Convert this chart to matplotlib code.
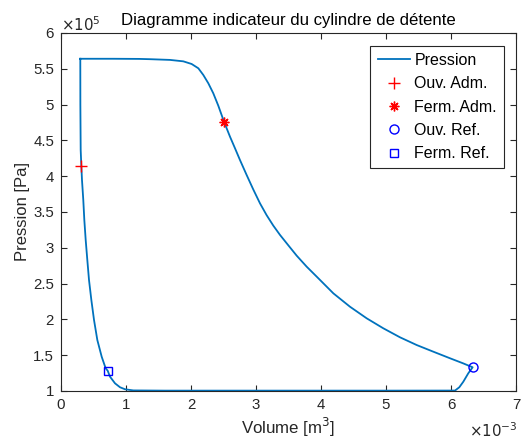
import matplotlib
matplotlib.use("Agg")
import matplotlib.pyplot as plt
from matplotlib.ticker import FuncFormatter, MultipleLocator

plt.rcParams['font.family'] = ['Liberation Sans', 'DejaVu Sans']

# Cycle (volume in 1e-3 m^3, pressure in 1e5 Pa), read along the loop
vol_loop = [0.297, 0.8, 1.2, 1.369, 1.677, 1.882, 2.01, 2.113, 2.19, 2.267, 2.343,
            2.42, 2.508, 2.6, 2.677, 2.754, 2.857, 2.958, 3.062, 3.164, 3.266,
            3.369, 3.497, 3.626, 3.78, 3.934, 4.19, 4.446, 4.703, 4.958, 5.215,
            5.472, 5.728, 5.985, 6.19, 6.333, 6.266, 6.19, 6.128, 6.062, 5.0,
            3.0, 1.6, 1.113, 0.985, 0.908, 0.831, 0.754, 0.718, 0.687, 0.626,
            0.559, 0.508, 0.467, 0.431, 0.405, 0.38, 0.359, 0.343, 0.323, 0.313,
            0.303, 0.298, 0.297]
pres_loop = [5.64, 5.64, 5.638, 5.634, 5.624, 5.604, 5.567, 5.507, 5.413, 5.297,
             5.158, 4.985, 4.761, 4.552, 4.39, 4.225, 4.015, 3.815, 3.62, 3.455,
             3.31, 3.18, 3.035, 2.89, 2.736, 2.597, 2.364, 2.177, 2.015, 1.876,
             1.75, 1.642, 1.549, 1.457, 1.385, 1.331, 1.247, 1.13, 1.052, 1.006,
             1.005, 1.005, 1.005, 1.008, 1.024, 1.052, 1.107, 1.2, 1.284, 1.317,
             1.479, 1.712, 1.992, 2.271, 2.55, 2.83, 3.109, 3.388, 3.668, 3.947,
             4.14, 4.366, 5.0, 5.64]

ouv_adm = (0.313, 4.14)
ferm_adm = (2.508, 4.761)
ouv_ref = (6.333, 1.331)
ferm_ref = (0.718, 1.284)

VS = 1e-3
PS = 1e5

fig = plt.figure(figsize=(5.24, 4.41), dpi=100)
ax = fig.add_axes([0.1164, 0.1134, 0.8683, 0.8118])

ax.plot([v * VS for v in vol_loop], [p * PS for p in pres_loop],
        color='#0072BD', lw=1.3, label='Pression')
ax.plot(ouv_adm[0] * VS, ouv_adm[1] * PS, marker='+', color='red', ms=8, mew=1.0,
        linestyle='none', label='Ouv. Adm.')
ax.plot(ferm_adm[0] * VS, ferm_adm[1] * PS, marker=(8, 2, 0), color='red', ms=7,
        mew=1.0, linestyle='none', label='Ferm. Adm.')
ax.plot(ouv_ref[0] * VS, ouv_ref[1] * PS, marker='o', mfc='none', mec='blue', ms=6.5,
        mew=1.0, linestyle='none', label='Ouv. Ref.')
ax.plot(ferm_ref[0] * VS, ferm_ref[1] * PS, marker='s', mfc='none', mec='blue', ms=5.5,
        mew=1.0, linestyle='none', label='Ferm. Ref.')

ax.set_xlim(0, 7e-3)
ax.set_ylim(1e5, 6e5)
ax.xaxis.set_major_locator(MultipleLocator(1e-3))
ax.yaxis.set_major_locator(MultipleLocator(0.5e5))
ax.xaxis.set_major_formatter(FuncFormatter(lambda v, p: f"{v / VS:g}"))
ax.yaxis.set_major_formatter(FuncFormatter(lambda v, p: f"{v / PS:g}"))

ax.tick_params(direction='in', top=True, right=True, length=4, width=0.8,
               labelsize=10.8, colors='#262626', pad=5)
for s in ax.spines.values():
    s.set_color('#262626')
    s.set_linewidth(0.8)

ax.text(0.0, 0.998, r'$\times10^{5}$', transform=ax.transAxes, ha='left',
        va='bottom', fontsize=10.8, color='#262626')
ax.text(1.003, -0.085, r'$\times10^{-3}$', transform=ax.transAxes, ha='right',
        va='top', fontsize=10.8, color='#262626')

ax.set_title('Diagramme indicateur du cylindre de détente', fontsize=12.1,
             color='black', pad=6)
ax.set_xlabel('Volume [m$^3$]', fontsize=12.2, color='#262626', labelpad=3)
ax.set_ylabel('Pression [Pa]', fontsize=12.0, color='#262626', labelpad=2)

leg = ax.legend(loc='upper right', bbox_to_anchor=(0.974, 0.964),
                borderaxespad=0, fancybox=False, edgecolor='#262626',
                fontsize=11.5, handlelength=2.0, handletextpad=0.3,
                labelspacing=0.52, borderpad=0.45, framealpha=1)
leg.get_frame().set_linewidth(0.8)

fig.savefig('out.png', dpi=100)
